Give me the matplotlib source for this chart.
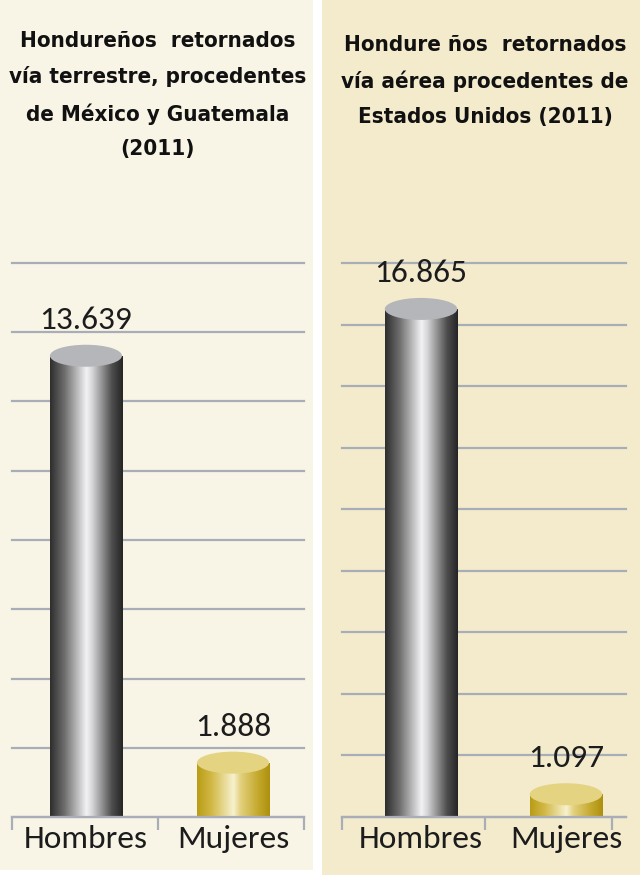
import numpy as np
import matplotlib
matplotlib.use("Agg")
import matplotlib.pyplot as plt
from matplotlib.patches import Rectangle, Ellipse
from matplotlib.colors import LinearSegmentedColormap

# datos
categorias = ["Hombres", "Mujeres"]
terrestre = [13639, 1888]
aerea = [16865, 1097]
etiquetas_terrestre = ["13.639", "1.888"]
etiquetas_aerea = ["16.865", "1.097"]
titulo_terrestre = "Hondureños  retornados\nvía terrestre, procedentes\nde México y Guatemala\n(2011)"
titulo_aerea = "Hondure ños  retornados\nvía aérea procedentes de\nEstados Unidos (2011)"

W, H = 640, 877
fig = plt.figure(figsize=(W / 100, H / 100), dpi=100, facecolor="white")


def caja(x0, y0, x1, y1):
    # pixeles (origen arriba-izquierda) -> fraccion de figura
    return [x0 / W, 1 - y1 / H, (x1 - x0) / W, (y1 - y0) / H]


# fondos de los paneles
for (x0, x1, y1, col) in [(0, 313, 870, "#f8f4e6"), (322, 640, 875, "#f3ebcc")]:
    r = caja(x0, 0, x1, y1)
    fig.patches.append(Rectangle((r[0], r[1]), r[2], r[3], transform=fig.transFigure,
                                 facecolor=col, edgecolor="none", zorder=-5))

gris = LinearSegmentedColormap.from_list("gris", [
    (0.0, "#2e2e2e"), (0.2, "#6f6f6f"), (0.5, "#f2f2f4"), (0.58, "#d6d6d8"),
    (0.85, "#4e4e4e"), (1.0, "#262626")])
oro = LinearSegmentedColormap.from_list("oro", [
    (0.0, "#b99c16"), (0.2, "#d2b947"), (0.5, "#f7f1cf"), (0.6, "#e2d07c"),
    (0.85, "#c3a72a"), (1.0, "#ad900f")])
mapas = [gris, oro]
tapas = ["#b5b6b9", "#e4d482"]

fuente_eje = ["Carlito", "Lato", "DejaVu Sans"]


def panel(rect, valores, etiquetas, ymax, xlim, ticks_borde, ancho):
    ax = fig.add_axes(rect)
    ax.set_facecolor("none")
    alto_px = rect[3] * H
    eh = 22 / alto_px * ymax
    grad = np.linspace(0, 1, 200).reshape(1, -1)
    for i, v in enumerate(valores):
        cuerpo = v - eh / 2
        b = ax.bar(i, cuerpo, ancho, color="none", edgecolor="none", zorder=2)[0]
        im = ax.imshow(grad, extent=[i - ancho / 2, i + ancho / 2, 0, cuerpo],
                       aspect="auto", cmap=mapas[i], zorder=2)
        im.set_clip_path(b)
        ax.add_patch(Ellipse((i, cuerpo), ancho, eh, facecolor=tapas[i],
                             edgecolor="none", zorder=3))
        ax.annotate(etiquetas[i], (i, v), xytext=(0, 18), textcoords="offset points",
                    ha="center", va="center", fontsize=24, color="#1c1c1c",
                    family=fuente_eje, zorder=4)
    ax.set_xlim(*xlim)
    ax.set_ylim(0, ymax)
    ax.set_yticks(np.arange(0, ymax + 1, 2000))
    ax.yaxis.grid(True, color="#a9adb8", lw=1.6, zorder=1)
    for gl in ax.get_ygridlines():
        gl.set_clip_on(False)
    ax.set_axisbelow(True)
    ax.tick_params(axis="y", length=0, labelleft=False)
    for s in ["top", "left", "right"]:
        ax.spines[s].set_visible(False)
    ax.spines["bottom"].set_color("#a9adb8")
    ax.spines["bottom"].set_linewidth(1.6)
    ax.set_xticks([0, 1])
    ax.set_xticklabels(categorias, fontsize=24, color="#1c1c1c", family=fuente_eje)
    ax.tick_params(axis="x", which="major", length=0, pad=6)
    ax.set_xticks(ticks_borde, minor=True)
    ax.tick_params(axis="x", which="minor", length=9, width=1.6, color="#a9adb8")
    return ax


panel(caja(12, 263, 304, 817), terrestre, etiquetas_terrestre, 16000,
      (-0.503, 1.483), [-0.503, 0.49, 1.48], 0.49)
panel(caja(342, 263, 626, 817), aerea, etiquetas_aerea, 18000,
      (-0.545, 1.414), [-0.545, 0.44, 1.32], 0.5)

fig.text(158 / W, 1 - 31 / H, titulo_terrestre, ha="center", va="top", fontsize=16,
         color="#111111", family="DejaVu Sans", fontstretch="condensed",
         fontweight="bold", linespacing=1.9)
fig.text(485 / W, 1 - 35 / H, titulo_aerea, ha="center", va="top", fontsize=16,
         color="#111111", family="DejaVu Sans", fontstretch="condensed",
         fontweight="bold", linespacing=1.9)

fig.savefig("out.png", dpi=100, facecolor="white")
